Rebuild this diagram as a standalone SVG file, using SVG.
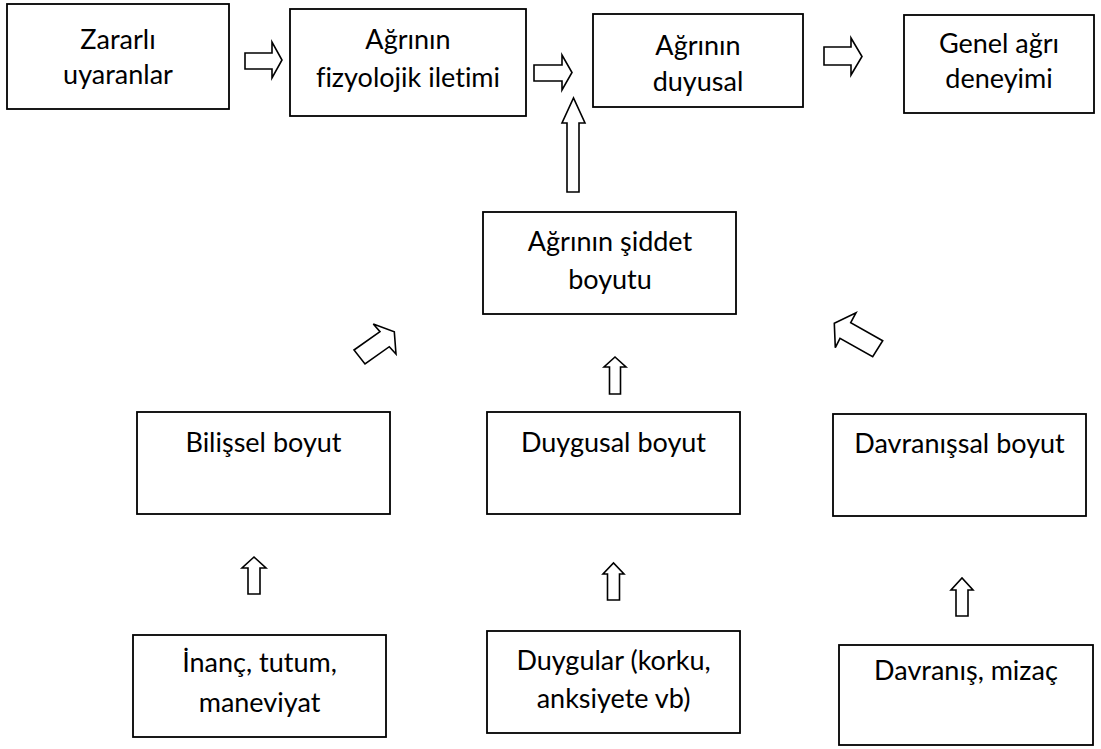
<svg xmlns="http://www.w3.org/2000/svg" width="1101" height="749" viewBox="0 0 1101 749">
<style>
.box{fill:#fff;stroke:#000;stroke-width:1.8}
.arr{fill:#fff;stroke:#000;stroke-width:1.6;stroke-linejoin:miter}
text{font-family:Lato,"Liberation Sans",sans-serif;font-size:27px;fill:#000;text-anchor:middle;font-variant-ligatures:none}
</style>
<rect width="1101" height="749" fill="#fff"/>
<g id="connectors">
<polygon class="arr" points="245,53 272,53 272,42 282,60 272,78 272,69 245,69"/>
<polygon class="arr" points="534,65 562,65 562,55 572,72.5 562,90 562,81 534,81"/>
<polygon class="arr" points="824,47 851,47 851,38 862,56.5 851,75 851,65 824,65"/>
<polygon class="arr" points="567,192 567,123 562,123 573.5,98 585,123 579,123 579,192"/>
<polygon class="arr" points="609.5,394 609.5,367 604,367 615,357 626,367 620.5,367 620.5,394"/>
<polygon class="arr" points="354,350 380,331.7 373.3,324 394.3,331.7 396,354 389.3,346.7 365,364"/>
<polygon class="arr" points="882.7,340.7 850.7,322.7 856,312.7 834.3,323.3 835.3,347.7 840,338.3 872.7,356.7"/>
<polygon class="arr" points="248,594 248,568 242,568 254,557 266,568 260,568 260,594"/>
<polygon class="arr" points="607.5,600 607.5,574 603,574 613.5,563 624,574 619.5,574 619.5,600"/>
<polygon class="arr" points="956,616 956,590 951,590 962,578 973,590 968,590 968,616"/>
</g>
<g id="n1"><rect class="box" x="7" y="4" width="222" height="105"/><text x="118" y="49">Zararlı</text><text x="118" y="84">uyaranlar</text></g>
<g id="n2"><rect class="box" x="290" y="9" width="236" height="107"/><text x="408" y="49">Ağrının</text><text x="408" y="87">fizyolojik iletimi</text></g>
<g id="n3"><rect class="box" x="593" y="14" width="210" height="93"/><text x="698" y="55">Ağrının</text><text x="698" y="91">duyusal</text></g>
<g id="n4"><rect class="box" x="904" y="15" width="190" height="98"/><text x="999" y="53">Genel ağrı</text><text x="999" y="88">deneyimi</text></g>
<g id="n5"><rect class="box" x="483" y="212" width="253" height="102"/><text x="610" y="251">Ağrının şiddet</text><text x="610" y="289">boyutu</text></g>
<g id="n6"><rect class="box" x="137" y="412" width="253" height="102"/><text x="263.5" y="452">Bilişsel boyut</text></g>
<g id="n7"><rect class="box" x="487" y="412" width="253" height="102"/><text x="613.5" y="452">Duygusal boyut</text></g>
<g id="n8"><rect class="box" x="833" y="414" width="253" height="102"/><text x="959.5" y="453">Davranışsal boyut</text></g>
<g id="n9"><rect class="box" x="133" y="635" width="253" height="102"/><text x="259.5" y="672">İnanç, tutum,</text><text x="259.5" y="712">maneviyat</text></g>
<g id="n10"><rect class="box" x="487" y="631" width="253" height="102"/><text x="613.5" y="670">Duygular (korku,</text><text x="613.5" y="708">anksiyete vb)</text></g>
<g id="n11"><rect class="box" x="839" y="645" width="254" height="100"/><text x="966" y="680">Davranış, mizaç</text></g>
</svg>
